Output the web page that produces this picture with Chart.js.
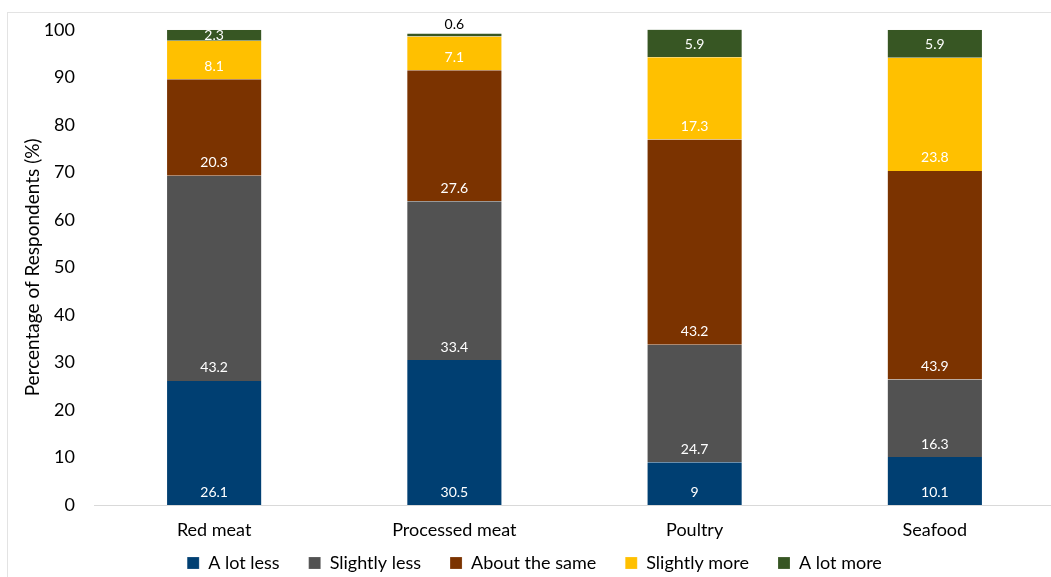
<!DOCTYPE html>
<html>
<head>
<meta charset="utf-8">
<script src="https://cdn.jsdelivr.net/npm/chart.js@4.4.1/dist/chart.umd.min.js"></script>
<style>
    html, body { margin: 0; padding: 0; background: #fff; overflow: hidden; }
    #wrap { position: relative; width: 1060px; height: 577px; }
    #frame {
        position: absolute; left: 7px; top: 12px; width: 1100px; height: 700px;
        border-top: 1px solid #e3e3e3; border-left: 1px solid #e3e3e3;
    }
    canvas { position: absolute; left: 0; top: 0; }
</style>
</head>
<body>
<div id="wrap">
    <div id="frame"></div>
    <canvas id="consumoChart" width="1060" height="577"></canvas>
</div>
<script>
const categorias = ['Red meat', 'Processed meat', 'Poultry', 'Seafood'];
const series = ['A lot less', 'Slightly less', 'About the same', 'Slightly more', 'A lot more'];
const colores = ['#003F72', '#525252', '#7B3300', '#FFC000', '#375623'];

const aLotLess = [26.1, 30.5, 9, 10.1];
const slightlyLess = [43.2, 33.4, 24.7, 16.3];
const aboutTheSame = [20.3, 27.6, 43.2, 43.9];
const slightlyMore = [8.1, 7.1, 17.3, 23.8];
const aLotMore = [2.3, 0.6, 5.9, 5.9];

const yTicks = [0, 10, 20, 30, 40, 50, 60, 70, 80, 90, 100];

const valores = [aLotLess, slightlyLess, aboutTheSame, slightlyMore, aLotMore];
const fuente = "Lato, 'Open Sans', sans-serif";

// etiquetas de valor dentro de cada segmento, cerca de la base
const etiquetasPlugin = {
    id: 'etiquetas',
    afterDatasetsDraw(chart) {
        const ctx = chart.ctx;
        ctx.save();
        ctx.font = '14px ' + fuente;
        ctx.textAlign = 'center';
        ctx.textBaseline = 'middle';
        chart.data.datasets.forEach((ds, i) => {
            const meta = chart.getDatasetMeta(i);
            meta.data.forEach((bar, j) => {
                const v = ds.data[j];
                if (v < 2) {
                    ctx.fillStyle = '#000';
                    ctx.fillText(String(v), bar.x, bar.y - 9);
                } else {
                    ctx.fillStyle = '#fff';
                    const y = Math.max(bar.base - 13, (bar.base + bar.y) / 2);
                    ctx.fillText(String(v), bar.x, y);
                }
            });
        });
        ctx.restore();
    }
};

// sube la leyenda para que quede justo bajo las etiquetas del eje x
const leyendaPlugin = {
    id: 'leyendaArriba',
    afterLayout(chart) {
        const lg = chart.legend;
        if (!lg) return;
        lg.top = 525;
        lg.bottom = chart.height;
        lg.height = lg.bottom - lg.top;
        lg.left += 7;
        lg.right += 7;
    }
};

const ctx = document.getElementById('consumoChart').getContext('2d');
new Chart(ctx, {
    type: 'bar',
    data: {
        labels: categorias,
        datasets: series.map((nombre, i) => ({
            label: nombre,
            data: valores[i],
            backgroundColor: colores[i],
            borderColor: 'rgba(255,255,255,0.35)',
            borderWidth: { left: 1, right: 1, top: 0, bottom: 0 },
            categoryPercentage: 1,
            barPercentage: 0.4
        }))
    },
    options: {
        responsive: false,
        animation: false,
        layout: { padding: { top: 29, right: 5, bottom: 0, left: 0 } },
        plugins: {
            tooltip: { enabled: false },
            legend: {
                position: 'bottom',
                maxHeight: 28,
                labels: {
                    boxWidth: 12,
                    boxHeight: 12,
                    padding: 29,
                    color: '#000',
                    font: { family: fuente, size: 18 }
                }
            }
        },
        scales: {
            x: {
                stacked: true,
                grid: { display: false, drawTicks: false },
                border: { display: true, color: '#d9d9d9', width: 1 },
                ticks: { color: '#000', padding: 14, font: { family: fuente, size: 18 } },
                afterFit(scale) { scale.height = 44; }
            },
            y: {
                stacked: true,
                min: 0,
                max: 100,
                grid: { display: false, drawTicks: false },
                border: { display: false },
                afterBuildTicks(scale) { scale.ticks = yTicks.map(v => ({ value: v })); },
                ticks: { color: '#000', padding: 19, font: { family: fuente, size: 18 } },
                title: {
                    display: true,
                    text: 'Percentage of Respondents (%)',
                    color: '#000',
                    padding: { top: 21, bottom: 0 },
                    font: { family: fuente, size: 19 }
                },
                afterFit(scale) { scale.width = 94; }
            }
        }
    },
    plugins: [etiquetasPlugin, leyendaPlugin]
});
</script>
</body>
</html>
